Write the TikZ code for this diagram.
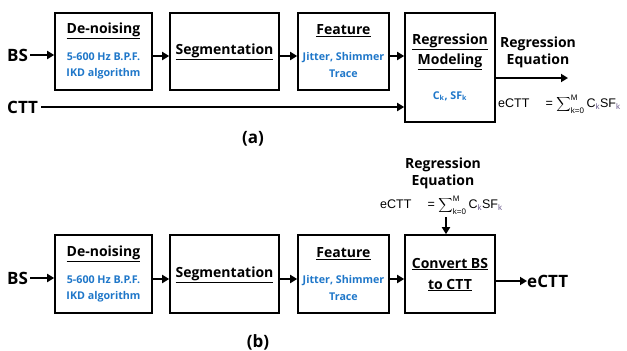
\documentclass[tikz,border=0pt]{standalone}
\usepackage{fontspec}
\setmainfont{Open Sans}
\newfontfamily\eqfont{Liberation Sans}
\usetikzlibrary{arrows.meta}
\definecolor{subblue}{HTML}{1F77C9}
\definecolor{kcol}{HTML}{6A5A8C}
\newcommand{\ulx}[1]{\underline{#1}}
\newcommand{\smallk}[1]{\hbox{\fontsize{8}{8}\eqfont #1}}
\newcommand{\eqtext}{{\eqfont eCTT\hspace{1.3em}= $\displaystyle\sum\nolimits^{\smallk{M}}_{\smallk{k=0}}$\,C$_{\smallk{\color{kcol}k}}$SF$_{\smallk{\color{kcol}k}}$}}
\tikzset{
  blk/.style={draw, line width=1.6pt, minimum width=#1, inner sep=0pt},
  ttl/.style={font=\fontsize{14}{16}\selectfont\bfseries, inner sep=0pt},
  sub/.style={font=\fontsize{10.7}{12}\selectfont\bfseries, text=subblue, inner sep=0pt},
  lbl/.style={font=\fontsize{17}{19}\selectfont\bfseries, inner sep=0pt},
  eq/.style={font=\fontsize{12.5}{14}\selectfont, inner sep=0pt},
  arr/.style={line width=2.2pt, -{Triangle[length=7pt,width=8pt]}},
  ln/.style={line width=2.2pt}
}
\begin{document}
\begin{tikzpicture}[x=1pt,y=-1pt]
\useasboundingbox (0,0) rectangle (627,351);
% ---------- (a) ----------
\node[blk=97pt, minimum height=77pt] (den) at (103.5,51.5) {};
\node[blk=109pt, minimum height=77pt] (seg) at (224.5,51.5) {};
\node[blk=91pt, minimum height=77pt] (feat) at (343.5,51.5) {};
\node[blk=90pt, minimum height=109pt] (reg) at (450,67.5) {};
\node[ttl] (denT) at (103.5,31) {\ulx{De-noising}};
\node[sub] (denS1) at (103.5,57) {5-600 Hz B.P.F.};
\node[sub] (denS2) at (103.5,74) {IKD algorithm};
\node[ttl] (segT) at (224.5,52) {\ulx{Segmentation}};
\node[ttl] (featT) at (343.5,31) {\ulx{Feature}};
\node[sub] (featS1) at (343.5,58) {Jitter, Shimmer};
\node[sub] (featS2) at (343.5,74) {Trace};
\node[ttl] (regT1) at (450,42) {\ulx{Regression}};
\node[ttl] (regT2) at (450,62) {\ulx{Modeling}};
\node[sub] (regS) at (450,96) {C$_{\hbox{\fontsize{7}{7}\selectfont k}}$, SF$_{\hbox{\fontsize{7}{7}\selectfont k}}$};
\node[lbl, anchor=west] (bsA) at (7,55) {BS};
\node[lbl, anchor=west] (cttA) at (7,107) {CTT};
\coordinate (outA) at (568,78);
\draw[arr] (bsA.east) ++(2pt,0) -- (den.west |- bsA.east);
\draw[arr] (den.east |- 0,56) -- (seg.west |- 0,56);
\draw[arr] (seg.east |- 0,56) -- (feat.west |- 0,56);
\draw[arr] (feat.east |- 0,56) -- (reg.west |- 0,56);
\draw[arr] (cttA.east) ++(3pt,0) -- (reg.west |- cttA.east);
\draw[arr] (reg.east |- 0,78) -- (outA);
\node[ttl] (reA1) at (538,44) {Regression};
\node[ttl] (reA2) at (538,61) {Equation};
\node[eq, anchor=west] (eqA) at (498,104) {\eqtext};
\node[lbl] (capA) at (253,139) {(a)};
% ---------- (b) ----------
\node[blk=97pt, minimum height=78pt] (den2) at (103.5,274) {};
\node[blk=109pt, minimum height=78pt] (seg2) at (224.5,274) {};
\node[blk=91pt, minimum height=78pt] (feat2) at (343.5,274) {};
\node[blk=90pt, minimum height=78pt] (conv) at (450,274) {};
\node[ttl] (denT2) at (103.5,254) {\ulx{De-noising}};
\node[sub] (denS3) at (103.5,280) {5-600 Hz B.P.F.};
\node[sub] (denS4) at (103.5,297) {IKD algorithm};
\node[ttl] (segT2) at (224.5,275) {\ulx{Segmentation}};
\node[ttl] (featT2) at (343.5,254) {\ulx{Feature}};
\node[sub] (featS3) at (343.5,281) {Jitter, Shimmer};
\node[sub] (featS4) at (343.5,297) {Trace};
\node[ttl] (convT1) at (450,264) {\ulx{Convert BS}};
\node[ttl] (convT2) at (450,285) {\ulx{to CTT}};
\node[lbl, anchor=west] (bsB) at (7,278) {BS};
\node[lbl, anchor=west] (ectt) at (527,281) {eCTT};
\draw[arr] (bsB.east) ++(2pt,0) -- (den2.west |- bsB.east);
\draw[arr] (den2.east |- 0,279) -- (seg2.west |- 0,279);
\draw[arr] (seg2.east |- 0,279) -- (feat2.west |- 0,279);
\draw[arr] (feat2.east |- 0,279) -- (conv.west |- 0,279);
\draw[arr] (conv.east |- ectt.west) -- (ectt.west);
\node[ttl] (reB1) at (443,165) {Regression};
\node[ttl] (reB2) at (443,182) {Equation};
\node[eq, anchor=west] (eqB) at (380,205) {\eqtext};
\coordinate (eqBarr) at (446,217);
\draw[arr] (eqBarr) -- (conv.north -| eqBarr);
\node[lbl] (capB) at (258,342) {(b)};
\end{tikzpicture}
\end{document}
